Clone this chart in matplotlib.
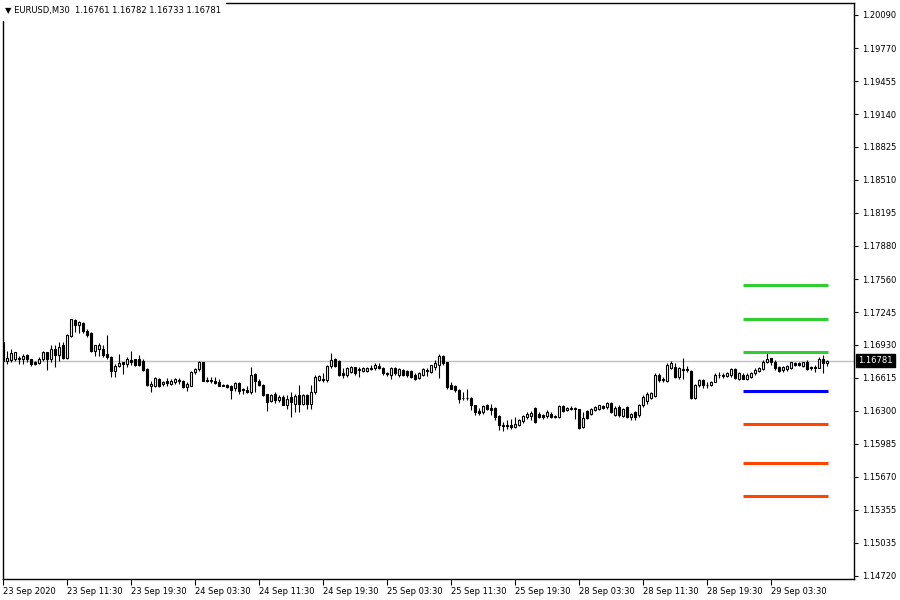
import numpy as np
import matplotlib
matplotlib.use("Agg")
import matplotlib.pyplot as plt

# EURUSD M30 bars, 23 Sep 03:30 .. 29 Sep 10:30
opens = [
    1.16963, 1.16781, 1.16787, 1.16791, 1.16803, 1.16797, 1.16835, 1.16791, 1.16771, 1.16759,
    1.16797, 1.16861, 1.16797, 1.16893, 1.16835, 1.16931, 1.16803, 1.17015, 1.17165, 1.17117,
    1.17143, 1.17059, 1.17047, 1.16877, 1.16887, 1.16887, 1.16845, 1.16819, 1.16685, 1.16727,
    1.16765, 1.16749, 1.16784, 1.16791, 1.16797, 1.16781, 1.16701, 1.16535, 1.16535, 1.16605,
    1.16554, 1.16583, 1.16560, 1.16573, 1.16592, 1.16589, 1.16525, 1.16541, 1.16669, 1.16701,
    1.16765, 1.16599, 1.16595, 1.16589, 1.16573, 1.16551, 1.16547, 1.16535, 1.16515, 1.16567,
    1.16506, 1.16503, 1.16477, 1.16653, 1.16589, 1.16547, 1.16458, 1.16397, 1.16461, 1.16401,
    1.16433, 1.16359, 1.16433, 1.16369, 1.16455, 1.16369, 1.16449, 1.16369, 1.16481, 1.16593,
    1.16609, 1.16593, 1.16731, 1.16795, 1.16775, 1.16657, 1.16641, 1.16667, 1.16715, 1.16699,
    1.16679, 1.16679, 1.16708, 1.16705, 1.16731, 1.16711, 1.16660, 1.16647, 1.16711, 1.16647,
    1.16689, 1.16679, 1.16679, 1.16641, 1.16615, 1.16647, 1.16689, 1.16673, 1.16721, 1.16737,
    1.16823, 1.16763, 1.16551, 1.16539, 1.16497, 1.16427, 1.16424, 1.16423, 1.16353, 1.16295,
    1.16289, 1.16353, 1.16327, 1.16327, 1.16251, 1.16167, 1.16167, 1.16167, 1.16145, 1.16167,
    1.16199, 1.16241, 1.16251, 1.16327, 1.16273, 1.16257, 1.16251, 1.16273, 1.16251, 1.16241,
    1.16343, 1.16305, 1.16324, 1.16327, 1.16315, 1.16145, 1.16295, 1.16273, 1.16305, 1.16321,
    1.16343, 1.16337, 1.16379, 1.16257, 1.16337, 1.16251, 1.16337, 1.16241, 1.16289, 1.16257,
    1.16353, 1.16391, 1.16423, 1.16443, 1.16647, 1.16609, 1.16583, 1.16711, 1.16721, 1.16625,
    1.16702, 1.16699, 1.16679, 1.16423, 1.16545, 1.16599, 1.16551, 1.16551, 1.16577, 1.16644,
    1.16638, 1.16635, 1.16641, 1.16699, 1.16609, 1.16641, 1.16609, 1.16625, 1.16657, 1.16679,
    1.16699, 1.16763, 1.16801, 1.16769, 1.16721, 1.16689, 1.16699, 1.16711, 1.16753, 1.16753,
    1.16731, 1.16769, 1.16715, 1.16721, 1.16711, 1.16795, 1.16761,
]
highs = [
    1.16973, 1.16877, 1.16893, 1.16867, 1.16829, 1.16845, 1.16845, 1.16797, 1.16778, 1.16813,
    1.16877, 1.16867, 1.16925, 1.16925, 1.16963, 1.16957, 1.17037, 1.17181, 1.17175, 1.17155,
    1.17149, 1.17085, 1.17053, 1.16931, 1.16951, 1.16931, 1.17021, 1.16829, 1.16749, 1.16845,
    1.16771, 1.16813, 1.16877, 1.16797, 1.16835, 1.16791, 1.16707, 1.16589, 1.16621, 1.16611,
    1.16589, 1.16611, 1.16605, 1.16618, 1.16611, 1.16595, 1.16573, 1.16685, 1.16707, 1.16781,
    1.16771, 1.16621, 1.16621, 1.16627, 1.16605, 1.16557, 1.16557, 1.16547, 1.16573, 1.16573,
    1.16515, 1.16541, 1.16717, 1.16663, 1.16605, 1.16557, 1.16464, 1.16461, 1.16477, 1.16449,
    1.16449, 1.16455, 1.16481, 1.16465, 1.16545, 1.16465, 1.16465, 1.16545, 1.16641, 1.16647,
    1.16657, 1.16743, 1.16849, 1.16807, 1.16785, 1.16705, 1.16721, 1.16731, 1.16721, 1.16721,
    1.16721, 1.16721, 1.16737, 1.16753, 1.16753, 1.16721, 1.16673, 1.16721, 1.16721, 1.16705,
    1.16699, 1.16689, 1.16689, 1.16657, 1.16667, 1.16705, 1.16705, 1.16743, 1.16785, 1.16839,
    1.16833, 1.16769, 1.16571, 1.16551, 1.16513, 1.16481, 1.16507, 1.16433, 1.16359, 1.16327,
    1.16353, 1.16369, 1.16369, 1.16337, 1.16257, 1.16193, 1.16209, 1.16225, 1.16241, 1.16225,
    1.16263, 1.16289, 1.16295, 1.16337, 1.16289, 1.16273, 1.16305, 1.16289, 1.16263, 1.16359,
    1.16353, 1.16337, 1.16343, 1.16337, 1.16321, 1.16289, 1.16305, 1.16327, 1.16347, 1.16359,
    1.16359, 1.16385, 1.16385, 1.16347, 1.16353, 1.16327, 1.16347, 1.16283, 1.16295, 1.16369,
    1.16449, 1.16481, 1.16481, 1.16657, 1.16657, 1.16625, 1.16753, 1.16775, 1.16753, 1.16721,
    1.16807, 1.16731, 1.16689, 1.16561, 1.16603, 1.16609, 1.16577, 1.16583, 1.16657, 1.16667,
    1.16657, 1.16667, 1.16705, 1.16705, 1.16673, 1.16657, 1.16657, 1.16667, 1.16705, 1.16721,
    1.16785, 1.16849, 1.16807, 1.16785, 1.16731, 1.16731, 1.16743, 1.16769, 1.16769, 1.16763,
    1.16769, 1.16785, 1.16731, 1.16743, 1.16817, 1.16833, 1.16782,
]
lows = [
    1.16765, 1.16749, 1.16771, 1.16781, 1.16749, 1.16749, 1.16765, 1.16727, 1.16739, 1.16749,
    1.16781, 1.16695, 1.16765, 1.16717, 1.16781, 1.16791, 1.16791, 1.17005, 1.17053, 1.17047,
    1.17047, 1.17005, 1.16867, 1.16823, 1.16829, 1.16813, 1.16797, 1.16621, 1.16621, 1.16717,
    1.16653, 1.16717, 1.16739, 1.16733, 1.16727, 1.16685, 1.16541, 1.16483, 1.16525, 1.16525,
    1.16541, 1.16541, 1.16547, 1.16557, 1.16557, 1.16515, 1.16493, 1.16535, 1.16653, 1.16685,
    1.16586, 1.16573, 1.16567, 1.16557, 1.16535, 1.16535, 1.16515, 1.16413, 1.16493, 1.16461,
    1.16461, 1.16471, 1.16461, 1.16477, 1.16535, 1.16445, 1.16301, 1.16381, 1.16375, 1.16385,
    1.16353, 1.16321, 1.16241, 1.16289, 1.16289, 1.16353, 1.16315, 1.16321, 1.16465, 1.16583,
    1.16571, 1.16577, 1.16711, 1.16721, 1.16635, 1.16615, 1.16625, 1.16657, 1.16647, 1.16625,
    1.16667, 1.16673, 1.16689, 1.16689, 1.16699, 1.16647, 1.16635, 1.16609, 1.16641, 1.16625,
    1.16635, 1.16625, 1.16615, 1.16593, 1.16603, 1.16635, 1.16635, 1.16657, 1.16689, 1.16615,
    1.16743, 1.16513, 1.16507, 1.16481, 1.16379, 1.16401, 1.16401, 1.16305, 1.16257, 1.16257,
    1.16273, 1.16305, 1.16257, 1.16209, 1.16113, 1.16103, 1.16123, 1.16129, 1.16135, 1.16155,
    1.16187, 1.16225, 1.16209, 1.16187, 1.16231, 1.16219, 1.16231, 1.16231, 1.16231, 1.16231,
    1.16289, 1.16295, 1.16305, 1.16219, 1.16129, 1.16135, 1.16219, 1.16257, 1.16295, 1.16311,
    1.16315, 1.16321, 1.16283, 1.16251, 1.16241, 1.16241, 1.16231, 1.16209, 1.16209, 1.16241,
    1.16337, 1.16369, 1.16411, 1.16433, 1.16577, 1.16577, 1.16577, 1.16699, 1.16615, 1.16603,
    1.16609, 1.16667, 1.16417, 1.16417, 1.16529, 1.16519, 1.16519, 1.16539, 1.16571, 1.16615,
    1.16615, 1.16622, 1.16625, 1.16609, 1.16593, 1.16603, 1.16593, 1.16615, 1.16647, 1.16673,
    1.16689, 1.16753, 1.16743, 1.16689, 1.16667, 1.16673, 1.16679, 1.16699, 1.16731, 1.16731,
    1.16721, 1.16689, 1.16689, 1.16667, 1.16705, 1.16657, 1.16733,
]
closes = [
    1.16781, 1.16803, 1.16855, 1.16861, 1.16794, 1.16829, 1.16797, 1.16746, 1.16749, 1.16797,
    1.16861, 1.16797, 1.16893, 1.16835, 1.16912, 1.16803, 1.17021, 1.17175, 1.17123, 1.17149,
    1.17059, 1.17027, 1.16877, 1.16925, 1.16931, 1.16835, 1.16816, 1.16685, 1.16733, 1.16759,
    1.16752, 1.16797, 1.16771, 1.16739, 1.16739, 1.16695, 1.16547, 1.16557, 1.16611, 1.16535,
    1.16579, 1.16570, 1.16586, 1.16605, 1.16583, 1.16525, 1.16557, 1.16675, 1.16701, 1.16765,
    1.16589, 1.16589, 1.16583, 1.16567, 1.16541, 1.16541, 1.16525, 1.16503, 1.16567, 1.16493,
    1.16496, 1.16477, 1.16643, 1.16589, 1.16547, 1.16451, 1.16387, 1.16451, 1.16407, 1.16433,
    1.16359, 1.16411, 1.16385, 1.16443, 1.16369, 1.16449, 1.16369, 1.16481, 1.16625, 1.16635,
    1.16599, 1.16731, 1.16785, 1.16731, 1.16641, 1.16641, 1.16711, 1.16721, 1.16657, 1.16689,
    1.16711, 1.16711, 1.16702, 1.16737, 1.16711, 1.16657, 1.16654, 1.16711, 1.16657, 1.16699,
    1.16641, 1.16641, 1.16625, 1.16609, 1.16657, 1.16699, 1.16679, 1.16737, 1.16753, 1.16823,
    1.16753, 1.16529, 1.16513, 1.16497, 1.16417, 1.16420, 1.16420, 1.16353, 1.16289, 1.16283,
    1.16347, 1.16321, 1.16305, 1.16241, 1.16161, 1.16155, 1.16155, 1.16145, 1.16177, 1.16209,
    1.16251, 1.16273, 1.16283, 1.16193, 1.16241, 1.16241, 1.16289, 1.16241, 1.16241, 1.16347,
    1.16299, 1.16327, 1.16318, 1.16321, 1.16135, 1.16231, 1.16231, 1.16315, 1.16337, 1.16353,
    1.16327, 1.16379, 1.16289, 1.16327, 1.16257, 1.16315, 1.16241, 1.16273, 1.16241, 1.16353,
    1.16433, 1.16465, 1.16475, 1.16647, 1.16593, 1.16599, 1.16743, 1.16753, 1.16625, 1.16711,
    1.16695, 1.16689, 1.16423, 1.16545, 1.16593, 1.16545, 1.16545, 1.16571, 1.16641, 1.16638,
    1.16631, 1.16657, 1.16699, 1.16615, 1.16657, 1.16609, 1.16647, 1.16657, 1.16689, 1.16711,
    1.16769, 1.16795, 1.16763, 1.16705, 1.16679, 1.16721, 1.16731, 1.16763, 1.16743, 1.16743,
    1.16763, 1.16699, 1.16708, 1.16711, 1.16795, 1.16753, 1.16781,
]

# pivot levels (R3, R2, R1, P, S1, S2, S3)
pivot_levels = [1.17500, 1.17175, 1.16859, 1.16486, 1.16170, 1.15797, 1.15481]
pivot_colors = ["#32CD32", "#32CD32", "#32CD32", "#0000FF", "#FF4500", "#FF4500", "#FF4500"]

price_ticks = [1.20090, 1.19770, 1.19455, 1.19140, 1.18825, 1.18510, 1.18195, 1.17880,
               1.17560, 1.17245, 1.16930, 1.16615, 1.16300, 1.15985, 1.15670, 1.15355,
               1.15035, 1.14720]
time_labels = ["23 Sep 2020", "23 Sep 11:30", "23 Sep 19:30", "24 Sep 03:30", "24 Sep 11:30",
               "24 Sep 19:30", "25 Sep 03:30", "25 Sep 11:30", "25 Sep 19:30", "28 Sep 03:30",
               "28 Sep 11:30", "28 Sep 19:30", "29 Sep 03:30"]

o = np.array(opens)
h = np.array(highs)
l = np.array(lows)
c = np.array(closes)
x = np.arange(len(c))

fig = plt.figure(figsize=(9, 6), dpi=100)
ax = fig.add_axes([2.5 / 900, 21 / 600, 851.5 / 900, 576 / 600])

# bid line
ax.axhline(c[-1], color="#C0C0C0", lw=1, zorder=1)

# wicks then bodies
ax.vlines(x, l, h, color="black", lw=0.8, zorder=2)
up = c >= o
body_lo = np.minimum(o, c)
body_h = np.abs(c - o)
ax.bar(x[up], body_h[up], bottom=body_lo[up], width=0.5, facecolor="white",
       edgecolor="black", linewidth=0.8, zorder=3)
ax.bar(x[~up], body_h[~up], bottom=body_lo[~up], width=0.5, facecolor="black",
       edgecolor="black", linewidth=0.8, zorder=3)

# pivot lines
ax.hlines(pivot_levels, 185, 206.25, colors=pivot_colors, lw=2.2, zorder=4)

ax.set_xlim(-0.125, 212.75)
ax.set_ylim(1.14690, 1.20203)

ax.yaxis.tick_right()
ax.set_yticks(price_ticks)
ax.set_yticklabels(["%.5f" % v for v in price_ticks])
ax.tick_params(axis="y", direction="out", length=3, width=0.8, pad=3, labelsize=6)

ax.set_xticks(np.arange(0, 193, 16))
ax.set_xticklabels(time_labels)
for lab in ax.get_xticklabels():
    lab.set_horizontalalignment("left")
ax.tick_params(axis="x", direction="out", length=4, width=0.8, pad=2, labelsize=6)

for s in ax.spines.values():
    s.set_linewidth(1.0)

ax.annotate("%.5f" % c[-1], xy=(1, c[-1]), xycoords=ax.get_yaxis_transform(),
            xytext=(3, 0), textcoords="offset points", ha="left", va="center",
            fontsize=6, color="white",
            bbox=dict(boxstyle="square,pad=0.25", fc="black", ec="black"))

fig.text(5 / 900, 1 - 11 / 600,
         "\u25bc EURUSD,M30  %.5f %.5f %.5f %.5f" % (o[-1], h[-1], l[-1], c[-1]),
         fontsize=6, va="center", ha="left",
         bbox=dict(boxstyle="square,pad=0.6", fc="white", ec="none"))

fig.savefig("out.png", dpi=100)
